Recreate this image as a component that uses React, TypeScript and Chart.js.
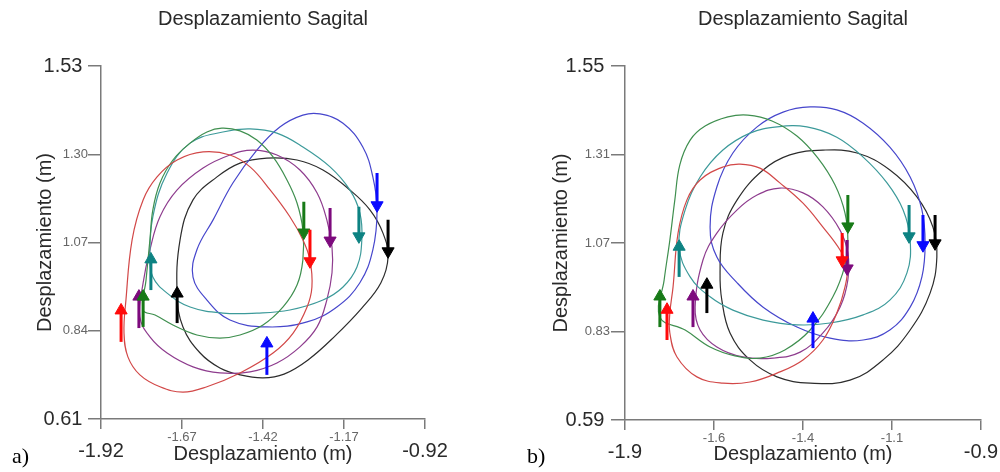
import React, { useEffect, useRef } from "react";
import { Chart, registerables } from "chart.js";

Chart.register(...registerables);

type Pt = [number, number];
type Arrow = [number, number, number]; // x, from, to (head centre)

const TITLE = "Desplazamiento Sagital";
const AXIS_LABEL = "Desplazamiento (m)";
const SERIES = ["red", "green", "teal", "purple", "blue", "black"];

// ---------------- panel a ----------------
const A_X_TICKS = [-1.92, -1.67, -1.42, -1.17, -0.92];
const A_X_LABELS = ["-1.92", "-1.67", "-1.42", "-1.17", "-0.92"];
const A_Y_TICKS = [0.61, 0.84, 1.07, 1.3, 1.53];
const A_Y_LABELS = ["0.61", "0.84", "1.07", "1.30", "1.53"];

const A_RED: Pt[] = [[-1.849,0.834],[-1.843,0.920],[-1.824,1.077],[-1.790,1.181],[-1.747,1.241],[-1.685,1.285],[-1.605,1.306],[-1.522,1.298],[-1.460,1.267],[-1.398,1.207],[-1.337,1.137],[-1.297,1.077],[-1.275,1.024],[-1.269,0.954],[-1.284,0.902],[-1.327,0.834],[-1.389,0.782],[-1.491,0.730],[-1.593,0.694],[-1.667,0.680],[-1.738,0.694],[-1.800,0.725],[-1.837,0.772]];
const A_GREEN: Pt[] = [[-1.790,0.894],[-1.781,0.972],[-1.769,1.077],[-1.760,1.155],[-1.738,1.225],[-1.698,1.285],[-1.645,1.329],[-1.593,1.358],[-1.547,1.368],[-1.491,1.361],[-1.439,1.337],[-1.389,1.293],[-1.346,1.233],[-1.315,1.173],[-1.297,1.103],[-1.297,1.024],[-1.315,0.959],[-1.358,0.902],[-1.420,0.855],[-1.491,0.829],[-1.553,0.821],[-1.624,0.829],[-1.698,0.855],[-1.753,0.881]];
const A_TEAL: Pt[] = [[-1.769,1.032],[-1.760,1.137],[-1.716,1.251],[-1.645,1.329],[-1.544,1.358],[-1.460,1.366],[-1.377,1.355],[-1.297,1.319],[-1.213,1.267],[-1.152,1.207],[-1.121,1.147],[-1.115,1.077],[-1.130,1.006],[-1.173,0.954],[-1.235,0.920],[-1.337,0.894],[-1.439,0.886],[-1.544,0.886],[-1.645,0.902],[-1.716,0.938],[-1.760,0.980]];
const A_PURPLE: Pt[] = [[-1.800,0.876],[-1.790,0.965],[-1.769,1.051],[-1.738,1.137],[-1.685,1.207],[-1.605,1.264],[-1.522,1.298],[-1.451,1.311],[-1.377,1.298],[-1.306,1.259],[-1.253,1.199],[-1.223,1.129],[-1.207,1.058],[-1.207,0.991],[-1.223,0.920],[-1.253,0.850],[-1.306,0.798],[-1.377,0.756],[-1.460,0.733],[-1.553,0.730],[-1.636,0.746],[-1.716,0.782],[-1.769,0.824]];
const A_BLUE: Pt[] = [[-1.408,0.850],[-1.522,0.868],[-1.593,0.920],[-1.636,0.980],[-1.624,1.051],[-1.574,1.129],[-1.513,1.225],[-1.439,1.311],[-1.368,1.371],[-1.297,1.402],[-1.244,1.405],[-1.173,1.381],[-1.112,1.319],[-1.081,1.241],[-1.068,1.155],[-1.081,1.051],[-1.121,0.965],[-1.192,0.902],[-1.284,0.863]];
const A_BLACK: Pt[] = [[-1.685,0.933],[-1.676,1.077],[-1.636,1.181],[-1.562,1.241],[-1.491,1.277],[-1.408,1.290],[-1.315,1.285],[-1.235,1.259],[-1.152,1.207],[-1.090,1.155],[-1.050,1.095],[-1.034,1.032],[-1.056,0.965],[-1.115,0.899],[-1.198,0.826],[-1.281,0.764],[-1.355,0.727],[-1.420,0.717],[-1.491,0.725],[-1.553,0.743],[-1.614,0.782],[-1.667,0.850]];

const A_ARROW_RED: Arrow[] = [[-1.858,0.811,0.893],[-1.275,1.103,1.021]];
const A_ARROW_GREEN: Arrow[] = [[-1.790,0.850,0.929],[-1.294,1.176,1.096]];
const A_ARROW_TEAL: Arrow[] = [[-1.766,0.946,1.026],[-1.124,1.163,1.086]];
const A_ARROW_PURPLE: Arrow[] = [[-1.803,0.847,0.929],[-1.213,1.160,1.075]];
const A_ARROW_BLUE: Arrow[] = [[-1.068,1.251,1.167],[-1.408,0.725,0.807]];
const A_ARROW_BLACK: Arrow[] = [[-1.685,0.860,0.937],[-1.034,1.129,1.047]];

// ---------------- panel b ----------------
const B_X_TICKS = [-1.9, -1.65, -1.4, -1.15, -0.9];
const B_X_LABELS = ["-1.9", "-1.6", "-1.4", "-1.1", "-0.9"];
const B_Y_TICKS = [0.59, 0.83, 1.07, 1.31, 1.55];
const B_Y_LABELS = ["0.59", "0.83", "1.07", "1.31", "1.55"];

const B_RED: Pt[] = [[-1.774,0.880],[-1.765,0.951],[-1.751,1.097],[-1.726,1.187],[-1.689,1.241],[-1.625,1.276],[-1.577,1.284],[-1.521,1.273],[-1.465,1.233],[-1.400,1.178],[-1.344,1.113],[-1.296,1.051],[-1.276,1.005],[-1.282,0.951],[-1.305,0.880],[-1.344,0.807],[-1.400,0.753],[-1.473,0.717],[-1.549,0.693],[-1.625,0.690],[-1.698,0.707],[-1.754,0.761],[-1.774,0.826]];
const B_GREEN: Pt[] = [[-1.802,0.869],[-1.790,0.970],[-1.774,1.078],[-1.760,1.187],[-1.746,1.282],[-1.717,1.349],[-1.675,1.387],[-1.611,1.412],[-1.555,1.417],[-1.487,1.401],[-1.417,1.360],[-1.358,1.300],[-1.310,1.227],[-1.282,1.151],[-1.274,1.078],[-1.282,1.010],[-1.316,0.924],[-1.380,0.834],[-1.451,0.780],[-1.521,0.758],[-1.591,0.764],[-1.661,0.788],[-1.731,0.834]];
const B_TEAL: Pt[] = [[-1.748,1.059],[-1.731,1.160],[-1.689,1.249],[-1.625,1.322],[-1.549,1.368],[-1.473,1.385],[-1.389,1.385],[-1.305,1.357],[-1.231,1.303],[-1.164,1.233],[-1.119,1.160],[-1.099,1.078],[-1.108,0.989],[-1.156,0.915],[-1.231,0.875],[-1.324,0.853],[-1.417,0.848],[-1.512,0.861],[-1.597,0.888],[-1.661,0.924],[-1.717,0.978]];
const B_PURPLE: Pt[] = [[-1.703,0.896],[-1.681,1.024],[-1.642,1.097],[-1.585,1.160],[-1.529,1.200],[-1.465,1.219],[-1.400,1.206],[-1.344,1.168],[-1.296,1.105],[-1.274,1.043],[-1.274,0.970],[-1.296,0.896],[-1.344,0.826],[-1.408,0.774],[-1.484,0.758],[-1.569,0.761],[-1.642,0.788],[-1.689,0.834]];
const B_BLUE: Pt[] = [[-1.661,1.113],[-1.642,1.222],[-1.597,1.314],[-1.529,1.385],[-1.456,1.425],[-1.380,1.439],[-1.305,1.431],[-1.231,1.395],[-1.156,1.330],[-1.099,1.249],[-1.066,1.160],[-1.057,1.070],[-1.066,0.978],[-1.099,0.896],[-1.156,0.834],[-1.231,0.807],[-1.324,0.812],[-1.417,0.842],[-1.512,0.896],[-1.585,0.962],[-1.642,1.032]];
const B_BLACK: Pt[] = [[-1.628,0.915],[-1.633,0.989],[-1.625,1.097],[-1.585,1.187],[-1.512,1.268],[-1.437,1.309],[-1.344,1.322],[-1.248,1.314],[-1.156,1.268],[-1.080,1.195],[-1.035,1.113],[-1.024,1.032],[-1.043,0.934],[-1.099,0.834],[-1.175,0.753],[-1.268,0.698],[-1.380,0.690],[-1.473,0.707],[-1.549,0.753],[-1.605,0.826]];

const B_ARROW_RED: Arrow[] = [[-1.782,0.807,0.889],[-1.290,1.097,1.023]];
const B_ARROW_GREEN: Arrow[] = [[-1.802,0.842,0.925],[-1.274,1.200,1.115]];
const B_ARROW_TEAL: Arrow[] = [[-1.748,0.978,1.060],[-1.102,1.173,1.088]];
const B_ARROW_PURPLE: Arrow[] = [[-1.709,0.842,0.925],[-1.276,1.078,1.001]];
const B_ARROW_BLUE: Arrow[] = [[-1.372,0.785,0.865],[-1.063,1.146,1.064]];
const B_ARROW_BLACK: Arrow[] = [[-1.670,0.880,0.957],[-1.029,1.146,1.069]];

// ---------------- styles ----------------
const FONT = "'Liberation Sans', Arial, Helvetica, sans-serif";
const CURVE_COLORS = ["#d24848", "#3f8f4f", "#3c9a9a", "#8e3c8e", "#4646cc", "#2c2c2c"];
const ARROW_COLORS = ["#ff0a0a", "#177a17", "#0d8282", "#7d0a7d", "#0a0aff", "#000000"];

interface PanelCfg {
  xTicks: number[]; xLabels: string[]; yTicks: number[]; yLabels: string[];
  curves: Pt[][]; arrows: Arrow[][];
  yAxisWidth: number; rightPad: number; xAxisHeight: number;
  yTickLen: number; yTickPad: number; yTitlePad: number;
}

const PANEL_A: PanelCfg = {
  xTicks: A_X_TICKS, xLabels: A_X_LABELS, yTicks: A_Y_TICKS, yLabels: A_Y_LABELS,
  curves: [A_RED, A_GREEN, A_TEAL, A_PURPLE, A_BLUE, A_BLACK],
  arrows: [A_ARROW_RED, A_ARROW_GREEN, A_ARROW_TEAL, A_ARROW_PURPLE, A_ARROW_BLUE, A_ARROW_BLACK],
  yAxisWidth: 101, rightPad: 75, xAxisHeight: 53, yTickLen: 13, yTickPad: 0, yTitlePad: 33,
};
const PANEL_B: PanelCfg = {
  xTicks: B_X_TICKS, xLabels: B_X_LABELS, yTicks: B_Y_TICKS, yLabels: B_Y_LABELS,
  curves: [B_RED, B_GREEN, B_TEAL, B_PURPLE, B_BLUE, B_BLACK],
  arrows: [B_ARROW_RED, B_ARROW_GREEN, B_ARROW_TEAL, B_ARROW_PURPLE, B_ARROW_BLUE, B_ARROW_BLACK],
  yAxisWidth: 125, rightPad: 19, xAxisHeight: 52, yTickLen: 14, yTickPad: 1, yTitlePad: 49.5,
};

const isEnd = (i: number, n: number) => i === 0 || i === n - 1;

function Panel({ cfg, left }: { cfg: PanelCfg; left: number }) {
  const ref = useRef<HTMLCanvasElement>(null);
  useEffect(() => {
    if (!ref.current) return;
    const datasets: any[] = [];
    cfg.arrows.forEach((list, si) => {
      list.forEach(([x, from, to]) => {
        datasets.push({
          label: SERIES[si] + " arrow",
          data: [{ x, y: from }, { x, y: to }],
          borderColor: ARROW_COLORS[si],
          backgroundColor: ARROW_COLORS[si],
          borderWidth: 3,
          borderCapStyle: "butt",
          tension: 0,
          pointRadius: [0, 7],
          pointHoverRadius: [0, 7],
          pointStyle: "triangle",
          pointRotation: to < from ? 180 : 0,
          pointBackgroundColor: ARROW_COLORS[si],
          pointBorderColor: ARROW_COLORS[si],
          pointBorderWidth: 1,
          fill: false,
        });
      });
    });
    cfg.curves.forEach((pts, si) => {
      const n = pts.length;
      const ext = [pts[n - 1], ...pts, pts[0], pts[1]];
      datasets.push({
        label: SERIES[si],
        data: ext.map(([x, y]) => ({ x, y })),
        borderColor: CURVE_COLORS[si],
        borderWidth: 1.2,
        tension: 0.4,
        pointRadius: 0,
        pointHoverRadius: 0,
        fill: false,
        segment: {
          borderColor: (sc: any) =>
            sc.p0DataIndex === 0 || sc.p1DataIndex === n + 2 ? "rgba(0,0,0,0)" : undefined,
        },
      });
    });

    const nx = cfg.xTicks.length;
    const ny = cfg.yTicks.length;
    const chart = new Chart(ref.current, {
      type: "line",
      data: { datasets },
      options: {
        animation: false,
        responsive: false,
        devicePixelRatio: 1,
        events: [],
        layout: { autoPadding: false, padding: { left: 0, right: cfg.rightPad, top: 0, bottom: 0 } },
        plugins: {
          legend: { display: false },
          tooltip: { enabled: false },
          title: {
            display: true,
            text: TITLE,
            fullSize: false,
            color: "#2a2a2a",
            font: { family: FONT, size: 20, weight: "normal", lineHeight: 1.2 },
            padding: { top: 7.3, bottom: 34.7 },
          },
        },
        scales: {
          x: {
            type: "linear",
            min: cfg.xTicks[0],
            max: cfg.xTicks[nx - 1],
            afterBuildTicks: (s: any) => { s.ticks = cfg.xTicks.map((v) => ({ value: v })); },
            afterFit: (s: any) => { s.height = cfg.xAxisHeight; s.paddingLeft = 0; s.paddingRight = 0; },
            border: { display: true, color: "#7a7a7a", width: 1.5 },
            grid: { display: true, drawOnChartArea: false, drawTicks: true, tickLength: 10, color: "#7a7a7a", lineWidth: 1.5 },
            ticks: {
              autoSkip: false, maxRotation: 0, minRotation: 0, padding: 2,
              callback: (_v: any, i: number) => cfg.xLabels[i],
              font: (c: any) => isEnd(c.index, nx)
                ? { family: FONT, size: 20, lineHeight: 2.0 }
                : { family: FONT, size: 13, lineHeight: 1.0 },
              color: (c: any) => (isEnd(c.index, nx) ? "#2a2a2a" : "#666666"),
            },
            title: {
              display: true, text: AXIS_LABEL, color: "#2a2a2a",
              font: { family: FONT, size: 20, lineHeight: 1.2 },
              padding: { top: 0, bottom: 5.7 },
            },
          },
          y: {
            type: "linear",
            min: cfg.yTicks[0],
            max: cfg.yTicks[ny - 1],
            afterBuildTicks: (s: any) => { s.ticks = cfg.yTicks.map((v) => ({ value: v })); },
            afterFit: (s: any) => { s.width = cfg.yAxisWidth; s.paddingTop = 0; s.paddingBottom = 0; },
            border: { display: true, color: "#7a7a7a", width: 1.5 },
            grid: { display: true, drawOnChartArea: false, drawTicks: true, tickLength: cfg.yTickLen, color: "#7a7a7a", lineWidth: 1.5 },
            ticks: {
              autoSkip: false, padding: cfg.yTickPad,
              callback: (_v: any, i: number) => (isEnd(i, ny) ? cfg.yLabels[i] + " " : cfg.yLabels[i]),
              font: (c: any) => isEnd(c.index, ny)
                ? { family: FONT, size: 20 }
                : { family: FONT, size: 13 },
              color: (c: any) => (isEnd(c.index, ny) ? "#2a2a2a" : "#666666"),
            },
            title: {
              display: true, text: AXIS_LABEL, color: "#2a2a2a",
              font: { family: FONT, size: 20, lineHeight: 1.2 },
              padding: { top: cfg.yTitlePad, bottom: 0 },
            },
          },
        },
      } as any,
    });
    return () => chart.destroy();
  }, [cfg]);

  return (
    <canvas
      ref={ref}
      width={500}
      height={472}
      style={{ position: "absolute", left, top: 0, width: 500, height: 472 }}
    />
  );
}

export default function App() {
  const serif = "22px 'Liberation Serif', 'DejaVu Serif', serif";
  return (
    <div style={{ position: "absolute", left: 0, top: 0, width: 1000, height: 472, background: "#fff", overflow: "hidden" }}>
      <Panel cfg={PANEL_A} left={0} />
      <Panel cfg={PANEL_B} left={500} />
      <div style={{ position: "absolute", left: 12, top: 445, font: serif, lineHeight: "22px", color: "#000" }}>a)</div>
      <div style={{ position: "absolute", left: 527, top: 445, font: serif, lineHeight: "22px", color: "#000" }}>b)</div>
    </div>
  );
}
